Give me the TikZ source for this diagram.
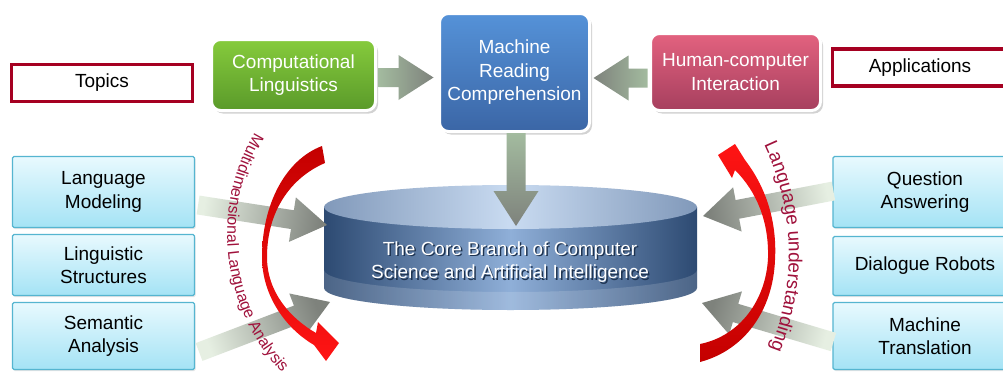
\documentclass[tikz,border=0pt]{standalone}
\usepackage{fontspec}
\setmainfont{Liberation Sans}
\usetikzlibrary{calc,shadows,decorations.text}
\definecolor{tagred}{HTML}{A50021}
\definecolor{greentop}{HTML}{86CB3C}
\definecolor{greenbot}{HTML}{5A9A2A}
\definecolor{bluetop}{HTML}{5592D8}
\definecolor{bluebot}{HTML}{3B66A6}
\definecolor{pinktop}{HTML}{E3627F}
\definecolor{pinkbot}{HTML}{A63F5E}
\definecolor{areatop}{HTML}{E8F9FE}
\definecolor{areabot}{HTML}{A4E3F5}
\definecolor{areaedge}{HTML}{55B5D0}
\definecolor{cylside}{HTML}{2D4A72}
\definecolor{cylmid}{HTML}{8FAFD8}
\definecolor{capside}{HTML}{8199BA}
\definecolor{capmid}{HTML}{C9DBF1}
\definecolor{coreshade}{HTML}{1E3350}
\definecolor{arrowgray}{HTML}{7E827C}
\definecolor{arrowsage}{HTML}{A3BB9F}
\definecolor{arrowpale}{HTML}{E6EFE2}
\definecolor{curvered}{HTML}{A0123C}
\definecolor{redlight}{HTML}{FF1414}
\definecolor{reddark}{HTML}{C40000}

\newcommand{\boxfont}{\fontsize{19}{23.5}\selectfont}

% block arrow from tail coordinate #2 to tip coordinate #3, tail colour #1
\newcommand{\blockarrow}[3]{%
  \pgfmathanglebetweenpoints{\pgfpointanchor{#2}{center}}{\pgfpointanchor{#3}{center}}%
  \pgfmathsetmacro{\arrowangle}{\pgfmathresult-90}%
  \coordinate (ba) at ($(#3)!35pt!(#2)$);
  \shade[grayarrow=#1, shading angle=\arrowangle]
    ($(#2)!9.5pt!90:(#3)$) -- ($(ba)!9.5pt!90:(#3)$) -- ($(ba)!22.5pt!90:(#3)$)
    -- (#3) -- ($(ba)!22.5pt!-90:(#3)$) -- ($(ba)!9.5pt!-90:(#3)$)
    -- ($(#2)!9.5pt!-90:(#3)$) -- cycle;}

\tikzset{
  tagbox/.style={draw=tagred, line width=3.5pt, fill=white, minimum width=181pt,
    minimum height=37pt, inner sep=0pt, font=\boxfont},
  headbox/.style={draw=white, line width=3pt, rounded corners=9pt, text=white,
    align=center, inner sep=0pt, font=\boxfont,
    drop shadow={opacity=0.35, shadow xshift=2.5pt, shadow yshift=-3pt}},
  areabox/.style={draw=areaedge, line width=1.2pt, top color=areatop,
    bottom color=areabot, rounded corners=1.5pt, minimum width=182pt,
    align=center, inner sep=0pt, font=\boxfont,
    drop shadow={opacity=0.2, shadow xshift=1pt, shadow yshift=-1.5pt}},
  coretext/.style={align=center, font=\boxfont},
  grayarrow/.style={top color=arrowgray, bottom color=#1},
  redarrow/.style 2 args={top color=#1, bottom color=#2},
}

\begin{document}
\begin{tikzpicture}[x=1pt, y=-1pt]
\useasboundingbox (0,0) rectangle (1003,372);
\clip (0,0) rectangle (1003,372);
\fill[white] (0,0) rectangle (1003,372);

% cylinder
\shade[left color=cylside, right color=cylside, middle color=cylmid]
  (324,207) -- (324,288) arc[start angle=180, end angle=0, x radius=186.5, y radius=22]
  -- (697,207) -- cycle;
\fill[white, opacity=0.15]
  (324,270) arc[start angle=180, end angle=0, x radius=186.5, y radius=22]
  -- (697,288) arc[start angle=0, end angle=180, x radius=186.5, y radius=22] -- cycle;
\shade[left color=capside, right color=capside, middle color=capmid]
  (510.5,207) ellipse[x radius=186.5, y radius=22];
\node[coretext, text=coreshade] (coreshadow) at (511.5,263.5)
  {The Core Branch of Computer\\Science and Artificial Intelligence};
\node[coretext, text=white] (core) at (510,262)
  {The Core Branch of Computer\\Science and Artificial Intelligence};

% top row
\node[tagbox] (topics) at (102,83) {Topics};
\node[headbox, top color=greentop, bottom color=greenbot, minimum width=164pt,
  minimum height=71pt] (cl) at (293.5,75) {Computational\\Linguistics};
\node[headbox, top color=bluetop, bottom color=bluebot, minimum width=150pt,
  minimum height=118pt] (mrc) at (514.5,72.5) {Machine\\Reading\\Comprehension};
\node[headbox, top color=pinktop, bottom color=pinkbot, minimum width=170pt,
  minimum height=77pt] (hci) at (735.5,72) {Human-computer\\Interaction};
\node[tagbox, minimum width=175pt] (apps) at (920,67.5) {Applications};

% side boxes
\node[areabox, minimum height=71pt] (lm) at (103.5,192) {Language\\Modeling};
\node[areabox, minimum height=61pt] (ls) at (103.5,265) {Linguistic\\Structures};
\node[areabox, minimum height=67pt] (sa) at (103.5,336) {Semantic\\Analysis};
\node[areabox, minimum width=184pt, minimum height=71pt] (qa) at (925,192) {Question\\Answering};
\node[areabox, minimum width=184pt, minimum height=59pt] (dr) at (925,266) {Dialogue Robots};
\node[areabox, minimum width=184pt, minimum height=67pt] (mt) at (925,336) {Machine\\Translation};

% arrow ends
\coordinate (cltail) at ($(cl.east)+(1.5,2.5)$);
\coordinate (cltip) at ($(mrc.west)+(-4.5,5)$);
\coordinate (hcitail) at ($(hci.west)+(-1.5,6)$);
\coordinate (hcitip) at ($(mrc.east)+(2.5,5.5)$);
\coordinate (mrctail) at ($(mrc.south)+(1.5,0)$);
\coordinate (mrctip) at (516,226);
\coordinate (lmtail) at ($(lm.east)+(3,13)$);
\coordinate (lmtip) at (327,225);
\coordinate (satail) at ($(sa.east)+(4,16)$);
\coordinate (satip) at (330,302);
\coordinate (qatail) at ($(qa.west)+(1,-1)$);
\coordinate (qatip) at (703,216);
\coordinate (mttail) at ($(mt.west)+(1,6)$);
\coordinate (mttip) at (702,303);

\blockarrow{arrowsage}{cltail}{cltip}
\blockarrow{arrowsage}{hcitail}{hcitip}
\blockarrow{arrowsage}{mrctail}{mrctip}
\blockarrow{arrowpale}{lmtail}{lmtip}
\blockarrow{arrowpale}{satail}{satip}
\blockarrow{arrowpale}{qatail}{qatip}
\blockarrow{arrowpale}{mttail}{mttip}

% curved labels
\path[decorate, decoration={text along path, text color=curvered,
  text={|\fontsize{16}{16}\selectfont|Multidimensional Language Analysis}}]
  (255,133) .. controls (205,215) and (225,325) .. (295,385);
\path[decorate, decoration={text along path, text color=curvered,
  text={|\fontsize{19}{19}\selectfont|Language understanding}}]
  (764,145) .. controls (797,215) and (797,290) .. (765,362);

% red turning arrows
\shade[redarrow={reddark}{redlight}]
  (322,146) .. controls (285,160) and (262,205) .. (262,257)
  .. controls (262,295) and (285,328) .. (314,345) -- (326,361) -- (339,343)
  -- (318,322) -- (316,333) .. controls (290,318) and (267,292) .. (267,257)
  .. controls (267,212) and (290,178) .. (325,163) -- cycle;
\shade[redarrow={redlight}{reddark}]
  (718,155) -- (735,144) -- (745,160) .. controls (768,190) and (777,225) .. (775,260)
  .. controls (773,310) and (745,350) .. (700,362) -- (700,344)
  .. controls (740,336) and (766,300) .. (768,258)
  .. controls (769,222) and (757,192) .. (735,170) -- (732,178) -- cycle;
\end{tikzpicture}
\end{document}
